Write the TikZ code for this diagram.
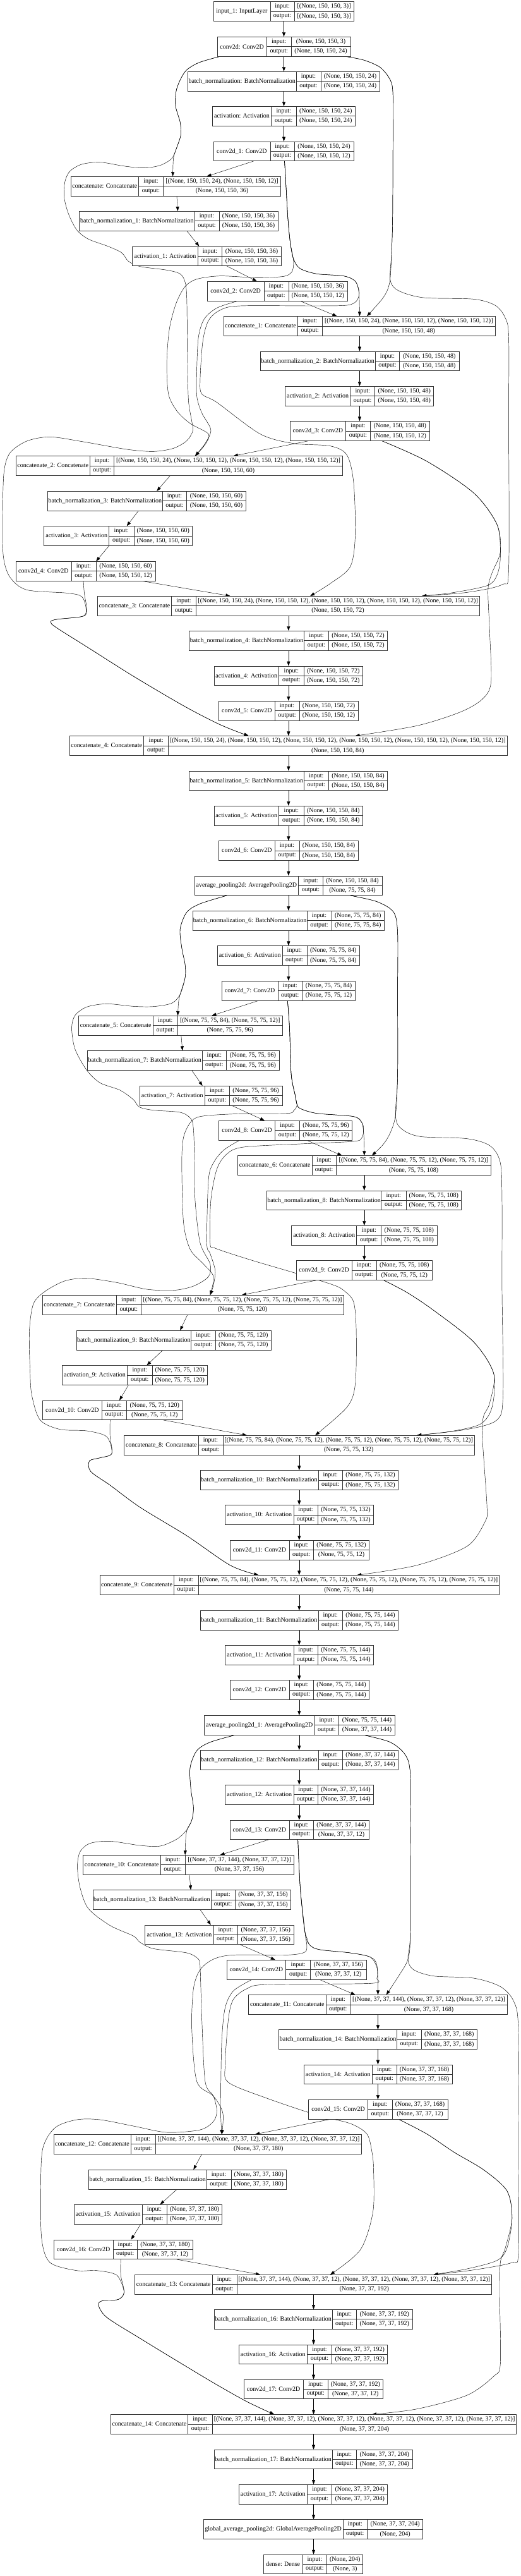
\documentclass[tikz,border=0pt]{standalone}
\usepackage{fontspec}
\setmainfont{Liberation Serif}
\usetikzlibrary{fit,arrows.meta}
\pgfdeclarelayer{bg}
\pgfsetlayers{bg,main}
\tikzset{
 box/.style={draw=black!80, line width=0.6pt, fill=white, inner sep=0pt, rectangle},
 cell/.style={draw=black!80, line width=0.6pt},
 txt/.style={inner sep=0pt, font=\fontsize{10pt}{12pt}\selectfont},
 arr/.style={-{Triangle[length=7pt,width=5pt]}, line width=0.45pt, draw=black},
}
\newcommand\mklayer[9]{%
  \pgfmathsetmacro\Lyb{#6+92}%
  \pgfmathsetmacro\Lym{#6+46}%
  \pgfmathsetmacro\Lyu{#6+23.5}%
  \pgfmathsetmacro\Lyd{#6+69}%
  \pgfmathsetmacro\Lxc{(#2+#3)/2}%
  \pgfmathsetmacro\Lxi{(#3+#4)/2}%
  \pgfmathsetmacro\Lxv{(#4+#5)/2}%
  \node[box, fit={(#2,#6) (#5,\Lyb)}] (#1) {};
  \draw[cell] (#3,#6) -- (#3,\Lyb) (#4,#6) -- (#4,\Lyb) (#3,\Lym) -- (#5,\Lym);
  \node[txt] (#1-l) at (\Lxc,\Lym) {#7};
  \node[txt] (#1-i) at (\Lxi,\Lyu) {input:};
  \node[txt] (#1-o) at (\Lxi,\Lyd) {output:};
  \node[txt] (#1-iv) at (\Lxv,\Lyu) {#8};
  \node[txt] (#1-ov) at (\Lxv,\Lyd) {#9};
}
\newcommand\cedge[4]{\draw[arr] (#1.south-|#2,0) -- (#3.north-|#4,0);}
\begin{document}
\begin{tikzpicture}[x=0.528205pt, y=-0.333333pt]
\useasboundingbox (0,0) rectangle (1560,12228);
% ---------------- layers ----------------
\mklayer{in0}{640}{810}{883}{1060}{8}{input\_1: InputLayer}{[(None, 150, 150, 3)]}{[(None, 150, 150, 3)]}
\mklayer{c0}{651}{800}{873}{1051}{175}{conv2d: Conv2D}{(None, 150, 150, 3)}{(None, 150, 150, 24)}
\mklayer{b0}{563}{888}{962}{1138}{340}{batch\_normalization: BatchNormalization}{(None, 150, 150, 24)}{(None, 150, 150, 24)}
\mklayer{a0}{637}{813}{888}{1065}{505}{activation: Activation}{(None, 150, 150, 24)}{(None, 150, 150, 24)}
\mklayer{c1}{640}{810}{883}{1060}{672}{conv2d\_1: Conv2D}{(None, 150, 150, 24)}{(None, 150, 150, 12)}
\mklayer{k0}{212}{416}{489}{842}{838}{concatenate: Concatenate}{[(None, 150, 150, 24), (None, 150, 150, 12)]}{(None, 150, 150, 36)}
\mklayer{b1}{238}{583}{657}{833}{1003}{batch\_normalization\_1: BatchNormalization}{(None, 150, 150, 36)}{(None, 150, 150, 36)}
\mklayer{a1}{397}{593}{666}{843}{1170}{activation\_1: Activation}{(None, 150, 150, 36)}{(None, 150, 150, 36)}
\mklayer{c2}{622}{791}{865}{1041}{1336}{conv2d\_2: Conv2D}{(None, 150, 150, 36)}{(None, 150, 150, 12)}
\mklayer{k1}{670}{892}{966}{1485}{1502}{concatenate\_1: Concatenate}{[(None, 150, 150, 24), (None, 150, 150, 12), (None, 150, 150, 12)]}{(None, 150, 150, 48)}
\mklayer{b2}{780}{1125}{1198}{1376}{1668}{batch\_normalization\_2: BatchNormalization}{(None, 150, 150, 48)}{(None, 150, 150, 48)}
\mklayer{a2}{855}{1050}{1124}{1300}{1834}{activation\_2: Activation}{(None, 150, 150, 48)}{(None, 150, 150, 48)}
\mklayer{c3}{869}{1037}{1110}{1288}{2000}{conv2d\_3: Conv2D}{(None, 150, 150, 48)}{(None, 150, 150, 12)}
\mklayer{k2}{47}{270}{342}{1027}{2165}{concatenate\_2: Concatenate}{[(None, 150, 150, 24), (None, 150, 150, 12), (None, 150, 150, 12), (None, 150, 150, 12)]}{(None, 150, 150, 60)}
\mklayer{b3}{143}{487}{560}{737}{2332}{batch\_normalization\_3: BatchNormalization}{(None, 150, 150, 60)}{(None, 150, 150, 60)}
\mklayer{a3}{132}{327}{401}{577}{2498}{activation\_3: Activation}{(None, 150, 150, 60)}{(None, 150, 150, 60)}
\mklayer{c4}{47}{214}{288}{466}{2665}{conv2d\_4: Conv2D}{(None, 150, 150, 60)}{(None, 150, 150, 12)}
\mklayer{k3}{292}{514}{588}{1438}{2830}{concatenate\_3: Concatenate}{[(None, 150, 150, 24), (None, 150, 150, 12), (None, 150, 150, 12), (None, 150, 150, 12), (None, 150, 150, 12)]}{(None, 150, 150, 72)}
\mklayer{b4}{567}{912}{985}{1162}{2995}{batch\_normalization\_4: BatchNormalization}{(None, 150, 150, 72)}{(None, 150, 150, 72)}
\mklayer{a4}{642}{836}{911}{1087}{3162}{activation\_4: Activation}{(None, 150, 150, 72)}{(None, 150, 150, 72)}
\mklayer{c5}{656}{824}{897}{1074}{3328}{conv2d\_5: Conv2D}{(None, 150, 150, 72)}{(None, 150, 150, 12)}
\mklayer{k4}{208}{431}{505}{1520}{3494}{concatenate\_4: Concatenate}{[(None, 150, 150, 24), (None, 150, 150, 12), (None, 150, 150, 12), (None, 150, 150, 12), (None, 150, 150, 12), (None, 150, 150, 12)]}{(None, 150, 150, 84)}
\mklayer{b5}{567}{911}{985}{1162}{3660}{batch\_normalization\_5: BatchNormalization}{(None, 150, 150, 84)}{(None, 150, 150, 84)}
\mklayer{a5}{642}{836}{911}{1087}{3826}{activation\_5: Activation}{(None, 150, 150, 84)}{(None, 150, 150, 84)}
\mklayer{c6}{656}{824}{897}{1074}{3992}{conv2d\_6: Conv2D}{(None, 150, 150, 84)}{(None, 150, 150, 84)}
\mklayer{p0}{583}{895}{968}{1145}{4158}{average\_pooling2d: AveragePooling2D}{(None, 150, 150, 84)}{(None, 75, 75, 84)}
\mklayer{b6}{578}{920}{994}{1152}{4324}{batch\_normalization\_6: BatchNormalization}{(None, 75, 75, 84)}{(None, 75, 75, 84)}
\mklayer{a6}{652}{846}{920}{1078}{4490}{activation\_6: Activation}{(None, 75, 75, 84)}{(None, 75, 75, 84)}
\mklayer{c7}{665}{833}{906}{1065}{4657}{conv2d\_7: Conv2D}{(None, 75, 75, 84)}{(None, 75, 75, 12)}
\mklayer{k5}{235}{459}{532}{847}{4822}{concatenate\_5: Concatenate}{[(None, 75, 75, 84), (None, 75, 75, 12)]}{(None, 75, 75, 96)}
\mklayer{b7}{262}{606}{679}{837}{4988}{batch\_normalization\_7: BatchNormalization}{(None, 75, 75, 96)}{(None, 75, 75, 96)}
\mklayer{a7}{419}{614}{688}{846}{5155}{activation\_7: Activation}{(None, 75, 75, 96)}{(None, 75, 75, 96)}
\mklayer{c8}{656}{825}{898}{1056}{5320}{conv2d\_8: Conv2D}{(None, 75, 75, 96)}{(None, 75, 75, 12)}
\mklayer{k6}{713}{935}{1008}{1472}{5486}{concatenate\_6: Concatenate}{[(None, 75, 75, 84), (None, 75, 75, 12), (None, 75, 75, 12)]}{(None, 75, 75, 108)}
\mklayer{b8}{800}{1143}{1217}{1383}{5652}{batch\_normalization\_8: BatchNormalization}{(None, 75, 75, 108)}{(None, 75, 75, 108)}
\mklayer{a8}{874}{1069}{1143}{1310}{5818}{activation\_8: Activation}{(None, 75, 75, 108)}{(None, 75, 75, 108)}
\mklayer{c9}{888}{1055}{1128}{1296}{5984}{conv2d\_9: Conv2D}{(None, 75, 75, 108)}{(None, 75, 75, 12)}
\mklayer{k7}{127}{349}{423}{1031}{6148}{concatenate\_7: Concatenate}{[(None, 75, 75, 84), (None, 75, 75, 12), (None, 75, 75, 12), (None, 75, 75, 12)]}{(None, 75, 75, 120)}
\mklayer{b9}{229}{573}{646}{813}{6316}{batch\_normalization\_9: BatchNormalization}{(None, 75, 75, 120)}{(None, 75, 75, 120)}
\mklayer{a9}{186}{382}{456}{622}{6482}{activation\_9: Activation}{(None, 75, 75, 120)}{(None, 75, 75, 120)}
\mklayer{c10}{128}{305}{380}{547}{6648}{conv2d\_10: Conv2D}{(None, 75, 75, 120)}{(None, 75, 75, 12)}
\mklayer{k8}{372}{595}{668}{1423}{6814}{concatenate\_8: Concatenate}{[(None, 75, 75, 84), (None, 75, 75, 12), (None, 75, 75, 12), (None, 75, 75, 12), (None, 75, 75, 12)]}{(None, 75, 75, 132)}
\mklayer{b10}{600}{954}{1027}{1194}{6980}{batch\_normalization\_10: BatchNormalization}{(None, 75, 75, 132)}{(None, 75, 75, 132)}
\mklayer{a10}{675}{880}{953}{1120}{7145}{activation\_10: Activation}{(None, 75, 75, 132)}{(None, 75, 75, 132)}
\mklayer{c11}{689}{867}{940}{1107}{7312}{conv2d\_11: Conv2D}{(None, 75, 75, 132)}{(None, 75, 75, 12)}
\mklayer{k9}{299}{521}{595}{1497}{7478}{concatenate\_9: Concatenate}{[(None, 75, 75, 84), (None, 75, 75, 12), (None, 75, 75, 12), (None, 75, 75, 12), (None, 75, 75, 12), (None, 75, 75, 12)]}{(None, 75, 75, 144)}
\mklayer{b11}{600}{954}{1027}{1194}{7645}{batch\_normalization\_11: BatchNormalization}{(None, 75, 75, 144)}{(None, 75, 75, 144)}
\mklayer{a11}{675}{880}{953}{1120}{7810}{activation\_11: Activation}{(None, 75, 75, 144)}{(None, 75, 75, 144)}
\mklayer{c12}{689}{867}{940}{1107}{7976}{conv2d\_12: Conv2D}{(None, 75, 75, 144)}{(None, 75, 75, 144)}
\mklayer{p1}{612}{943}{1016}{1184}{8143}{average\_pooling2d\_1: AveragePooling2D}{(None, 75, 75, 144)}{(None, 37, 37, 144)}
\mklayer{b12}{600}{954}{1027}{1194}{8308}{batch\_normalization\_12: BatchNormalization}{(None, 37, 37, 144)}{(None, 37, 37, 144)}
\mklayer{a12}{675}{880}{953}{1120}{8473}{activation\_12: Activation}{(None, 37, 37, 144)}{(None, 37, 37, 144)}
\mklayer{c13}{689}{867}{940}{1107}{8640}{conv2d\_13: Conv2D}{(None, 37, 37, 144)}{(None, 37, 37, 12)}
\mklayer{k10}{249}{481}{555}{880}{8806}{concatenate\_10: Concatenate}{[(None, 37, 37, 144), (None, 37, 37, 12)]}{(None, 37, 37, 156)}
\mklayer{b13}{278}{632}{705}{872}{8972}{batch\_normalization\_13: BatchNormalization}{(None, 37, 37, 156)}{(None, 37, 37, 156)}
\mklayer{a13}{435}{640}{713}{880}{9138}{activation\_13: Activation}{(None, 37, 37, 156)}{(None, 37, 37, 156)}
\mklayer{c14}{680}{857}{931}{1098}{9304}{conv2d\_14: Conv2D}{(None, 37, 37, 156)}{(None, 37, 37, 12)}
\mklayer{k11}{745}{977}{1050}{1521}{9470}{concatenate\_11: Concatenate}{[(None, 37, 37, 144), (None, 37, 37, 12), (None, 37, 37, 12)]}{(None, 37, 37, 168)}
\mklayer{b14}{836}{1190}{1263}{1430}{9635}{batch\_normalization\_14: BatchNormalization}{(None, 37, 37, 168)}{(None, 37, 37, 168)}
\mklayer{a14}{911}{1116}{1189}{1356}{9801}{activation\_14: Activation}{(None, 37, 37, 168)}{(None, 37, 37, 168)}
\mklayer{c15}{925}{1103}{1176}{1342}{9967}{conv2d\_15: Conv2D}{(None, 37, 37, 168)}{(None, 37, 37, 12)}
\mklayer{k12}{161}{392}{466}{1084}{10132}{concatenate\_12: Concatenate}{[(None, 37, 37, 144), (None, 37, 37, 12), (None, 37, 37, 12), (None, 37, 37, 12)]}{(None, 37, 37, 180)}
\mklayer{b15}{266}{619}{693}{859}{10300}{batch\_normalization\_15: BatchNormalization}{(None, 37, 37, 180)}{(None, 37, 37, 180)}
\mklayer{a15}{222}{426}{500}{666}{10465}{activation\_15: Activation}{(None, 37, 37, 180)}{(None, 37, 37, 180)}
\mklayer{c16}{161}{339}{412}{578}{10632}{conv2d\_16: Conv2D}{(None, 37, 37, 180)}{(None, 37, 37, 12)}
\mklayer{k13}{404}{636}{710}{1474}{10798}{concatenate\_13: Concatenate}{[(None, 37, 37, 144), (None, 37, 37, 12), (None, 37, 37, 12), (None, 37, 37, 12), (None, 37, 37, 12)]}{(None, 37, 37, 192)}
\mklayer{b16}{642}{996}{1069}{1236}{10963}{batch\_normalization\_16: BatchNormalization}{(None, 37, 37, 192)}{(None, 37, 37, 192)}
\mklayer{a16}{716}{921}{995}{1162}{11130}{activation\_16: Activation}{(None, 37, 37, 192)}{(None, 37, 37, 192)}
\mklayer{c17}{731}{909}{983}{1148}{11295}{conv2d\_17: Conv2D}{(None, 37, 37, 192)}{(None, 37, 37, 12)}
\mklayer{k14}{332}{563}{637}{1548}{11462}{concatenate\_14: Concatenate}{[(None, 37, 37, 144), (None, 37, 37, 12), (None, 37, 37, 12), (None, 37, 37, 12), (None, 37, 37, 12), (None, 37, 37, 12)]}{(None, 37, 37, 204)}
\mklayer{b17}{642}{996}{1069}{1236}{11628}{batch\_normalization\_17: BatchNormalization}{(None, 37, 37, 204)}{(None, 37, 37, 204)}
\mklayer{a17}{716}{921}{995}{1162}{11794}{activation\_17: Activation}{(None, 37, 37, 204)}{(None, 37, 37, 204)}
\mklayer{g}{610}{1028}{1101}{1268}{11960}{global\_average\_pooling2d: GlobalAveragePooling2D}{(None, 37, 37, 204)}{(None, 204)}
\mklayer{d}{790}{907}{980}{1088}{12126}{dense: Dense}{(None, 204)}{(None, 3)}
% ---------------- edges ----------------
\begin{pgfonlayer}{bg}
% main chain
\cedge{in0}{851}{c0}{851}\cedge{c0}{851}{b0}{851}\cedge{b0}{851}{a0}{851}\cedge{a0}{851}{c1}{851}
\cedge{c1}{760}{k0}{620}\cedge{k0}{530}{b1}{533}\cedge{b1}{560}{a1}{597}\cedge{a1}{680}{c2}{770}
\cedge{c2}{900}{k1}{1010}\cedge{k1}{1078}{b2}{1078}\cedge{b2}{1078}{a2}{1078}\cedge{a2}{1078}{c3}{1078}
\cedge{c3}{925}{k2}{700}\cedge{k2}{510}{b3}{470}\cedge{b3}{415}{a3}{380}\cedge{a3}{327}{c4}{288}
\cedge{c4}{425}{k3}{690}\cedge{k3}{865}{b4}{865}\cedge{b4}{865}{a4}{865}\cedge{a4}{865}{c5}{865}
\cedge{c5}{865}{k4}{865}\cedge{k4}{865}{b5}{865}\cedge{b5}{865}{a5}{865}\cedge{a5}{865}{c6}{865}
\cedge{c6}{865}{p0}{865}\cedge{p0}{865}{b6}{865}\cedge{b6}{865}{a6}{865}\cedge{a6}{865}{c7}{865}
\cedge{c7}{775}{k5}{635}\cedge{k5}{543}{b7}{547}\cedge{b7}{575}{a7}{607}\cedge{a7}{695}{c8}{793}
\cedge{c8}{920}{k6}{1025}\cedge{k6}{1092}{b8}{1092}\cedge{b8}{1092}{a8}{1092}\cedge{a8}{1092}{c9}{1092}
\cedge{c9}{950}{k7}{725}\cedge{k7}{562}{b9}{540}\cedge{b9}{488}{a9}{440}\cedge{a9}{385}{c10}{358}
\cedge{c10}{490}{k8}{740}\cedge{k8}{897}{b10}{897}\cedge{b10}{897}{a10}{897}\cedge{a10}{897}{c11}{897}
\cedge{c11}{897}{k9}{897}\cedge{k9}{897}{b11}{897}\cedge{b11}{897}{a11}{897}\cedge{a11}{897}{c12}{897}
\cedge{c12}{897}{p1}{897}\cedge{p1}{897}{b12}{897}\cedge{b12}{897}{a12}{897}\cedge{a12}{897}{c13}{897}
\cedge{c13}{805}{k10}{660}\cedge{k10}{568}{b13}{572}\cedge{b13}{600}{a13}{632}\cedge{a13}{720}{c14}{825}
\cedge{c14}{958}{k11}{1065}\cedge{k11}{1133}{b14}{1133}\cedge{b14}{1133}{a14}{1133}\cedge{a14}{1133}{c15}{1133}
\cedge{c15}{990}{k12}{765}\cedge{k12}{605}{b15}{580}\cedge{b15}{530}{a15}{480}\cedge{a15}{422}{c16}{393}
\cedge{c16}{530}{k13}{780}\cedge{k13}{940}{b16}{940}\cedge{b16}{940}{a16}{940}\cedge{a16}{940}{c17}{940}
\cedge{c17}{940}{k14}{940}\cedge{k14}{940}{b17}{940}\cedge{b17}{940}{a17}{940}\cedge{a17}{940}{g}{940}
\cedge{g}{940}{d}{940}
% ---- block 1 skip connections ----
\draw[arr] plot[smooth,tension=0.5] coordinates {(c0.south-|660,0) (595,298) (555,340) (530,420) (526,500) (540,580) (542,640) (530,700) (520,750) (k0.north-|518,0)};
\draw[arr] plot[smooth,tension=0.5] coordinates {(c0.south-|660,0) (595,298) (555,340) (530,420) (526,500) (540,580) (542,640) (530,700) (515,752) (480,785) (430,797) (370,788) (300,770) (245,780) (210,812) (195,860) (192,930) (200,990) (212,1040) (232,1095) (265,1135) (325,1170) (365,1200) (385,1240) (420,1265) (500,1282) (540,1300) (555,1340) (560,1420) (562,1700) (565,1900) (575,2000) (578,2045) (560,2092) (520,2128) (460,2143) (380,2133) (250,2097) (150,2074) (80,2094) (30,2150) (12,2240) (8,2440) (10,2640) (30,2740) (80,2800) (200,2815) (245,2832) (258,2890) (248,2925) (170,2940) (152,2952) (168,2978) (265,3075) (400,3210) (550,3350) (660,3440) (k4.north-|745,0)};
\draw[arr] plot[smooth,tension=0.5] coordinates {(c0.south-|1035,0) (1090,285) (1140,320) (1170,380) (1178,450) (1178,700) (1177,1035) (1174,1200) (1168,1340) (1150,1410) (k1.north-|1100,0)};
\draw[arr] plot[smooth,tension=0.5] coordinates {(c0.south-|1035,0) (1090,285) (1140,320) (1170,380) (1178,450) (1178,700) (1177,1035) (1174,1200) (1170,1330) (1195,1380) (1270,1413) (1420,1420) (1485,1450) (1515,1510) (1525,1600) (1525,2000) (1525,2700) (1505,2775) (1400,2812) (k3.north-|1265,0)};
\draw[arr] plot[smooth,tension=0.5] coordinates {(c1.south-|853,0) (858,900) (863,1035) (870,1150) (880,1230) (900,1275) (950,1300) (1030,1310) (1065,1335) (1076,1390) (k1.north-|1078,0)};
\draw[arr] plot[smooth,tension=0.5] coordinates {(c1.south-|853,0) (858,900) (863,1035) (870,1150) (880,1240) (875,1290) (850,1312) (770,1318) (660,1310) (590,1325) (555,1360) (528,1440) (508,1560) (500,1720) (505,1870) (530,1950) (570,2010) (625,2060) (615,2110) (k2.north-|585,0)};
\draw[arr] plot[smooth,tension=0.5] coordinates {(c2.south-|713,0) (650,1462) (612,1515) (595,1600) (590,1750) (590,1880) (605,1960) (632,2040) (615,2105) (k2.north-|585,0)};
\draw[arr] plot[smooth,tension=0.5] coordinates {(c1.south-|853,0) (858,900) (863,1035) (870,1150) (880,1230) (900,1275) (950,1300) (1030,1310) (1065,1335) (1077,1390) (1068,1430) (1040,1449) (950,1452) (720,1452) (660,1472) (625,1522) (608,1620) (600,1800) (605,1870) (650,1910) (780,2060) (880,2105) (990,2117) (1040,2160) (1060,2290) (1065,2540) (1050,2690) (990,2770) (k3.north-|930,0)};
\draw[arr] plot[smooth,tension=0.5] coordinates {(c3.south-|1145,0) (1280,2190) (1420,2340) (1490,2490) (1500,2640) (1490,2730) (1460,2780) (1350,2815) (k3.north-|1265,0)};
\draw[arr] plot[smooth,tension=0.5] coordinates {(c3.south-|1145,0) (1280,2190) (1420,2340) (1490,2490) (1500,2620) (1475,2720) (1463,2800) (1468,3000) (1472,3240) (1445,3320) (1380,3380) (1250,3445) (k4.north-|1065,0)};
\draw[arr] plot[smooth,tension=0.5] coordinates {(c4.south-|250,0) (253,2820) (260,2890) (250,2925) (170,2940) (152,2952) (168,2978) (265,3075) (400,3210) (550,3350) (660,3440) (k4.north-|745,0)};
% ---- block 2 skip connections ----
\draw[arr] plot[smooth,tension=0.5] coordinates {(p0.south-|680,0) (600,4290) (560,4330) (540,4410) (545,4500) (555,4580) (555,4640) (540,4720) (535,4760) (k5.north-|533,0)};
\draw[arr] plot[smooth,tension=0.5] coordinates {(p0.south-|680,0) (600,4290) (560,4330) (540,4410) (545,4500) (555,4580) (555,4640) (540,4720) (515,4762) (460,4778) (400,4777) (320,4765) (260,4780) (225,4820) (215,4880) (225,4980) (260,5080) (300,5140) (360,5175) (400,5220) (418,5255) (460,5270) (540,5280) (572,5310) (580,5360) (583,5500) (585,5700) (600,5900) (630,6000) (625,6060) (580,6105) (520,6125) (440,6120) (350,6088) (260,6068) (195,6080) (135,6130) (100,6190) (88,6320) (90,6500) (95,6620) (120,6740) (180,6785) (260,6792) (320,6820) (335,6900) (300,6920) (268,6935) (272,6985) (330,7050) (420,7155) (560,7290) (690,7430) (k9.north-|775,0)};
\draw[arr] plot[smooth,tension=0.5] coordinates {(p0.south-|1050,0) (1130,4280) (1180,4330) (1192,4430) (1192,4700) (1192,5100) (1186,5290) (1172,5370) (1150,5430) (k6.north-|1115,0)};
\draw[arr] plot[smooth,tension=0.5] coordinates {(p0.south-|1050,0) (1130,4280) (1180,4330) (1192,4430) (1192,4700) (1192,5100) (1186,5300) (1205,5360) (1260,5395) (1400,5405) (1470,5440) (1500,5520) (1505,5700) (1505,6120) (1508,6620) (1490,6740) (1400,6785) (k8.north-|1250,0)};
\draw[arr] plot[smooth,tension=0.5] coordinates {(c7.south-|862,0) (868,4880) (873,5100) (885,5200) (890,5240) (900,5262) (950,5285) (1060,5300) (1085,5330) (1091,5400) (k6.north-|1092,0)};
\draw[arr] plot[smooth,tension=0.5] coordinates {(c7.south-|862,0) (868,4880) (873,5100) (885,5200) (890,5250) (880,5272) (860,5285) (700,5288) (600,5300) (570,5330) (550,5400) (545,5520) (550,5800) (570,5930) (610,6000) (640,6060) (k7.north-|630,0)};
\draw[arr] plot[smooth,tension=0.5] coordinates {(c8.south-|718,0) (670,5460) (640,5520) (625,5600) (620,5900) (630,5950) (645,6030) (640,6100) (k7.north-|630,0)};
\draw[arr] plot[smooth,tension=0.5] coordinates {(c7.south-|862,0) (868,4880) (873,5100) (885,5200) (890,5240) (900,5262) (950,5285) (1060,5300) (1085,5330) (1090,5360) (1085,5400) (1060,5418) (900,5430) (730,5445) (680,5478) (650,5550) (632,5700) (630,5900) (645,5925) (750,5980) (900,6050) (1000,6100) (1030,6125) (1060,6180) (1068,6320) (1065,6570) (1040,6680) (k8.north-|945,0)};
\draw[arr] plot[smooth,tension=0.5] coordinates {(c9.south-|1150,0) (1220,6135) (1300,6220) (1420,6370) (1480,6520) (1475,6680) (1440,6760) (1350,6795) (k8.north-|1250,0)};
\draw[arr] plot[smooth,tension=0.5] coordinates {(c9.south-|1150,0) (1220,6135) (1300,6220) (1420,6370) (1480,6520) (1468,6660) (1450,6720) (1445,6790) (1450,6920) (1460,7155) (1455,7220) (1400,7340) (1250,7430) (k9.north-|1070,0)};
\draw[arr] plot[smooth,tension=0.5] coordinates {(c10.south-|330,0) (330,6820) (335,6900) (300,6920) (268,6935) (272,6985) (330,7050) (420,7155) (560,7290) (690,7430) (k9.north-|775,0)};
% ---- block 3 skip connections ----
\draw[arr] plot[smooth,tension=0.5] coordinates {(p1.south-|705,0) (630,8270) (590,8310) (570,8390) (572,8490) (580,8580) (575,8640) (562,8680) (557,8720) (k10.north-|555,0)};
\draw[arr] plot[smooth,tension=0.5] coordinates {(p1.south-|705,0) (630,8270) (590,8310) (570,8390) (572,8490) (580,8580) (575,8640) (558,8690) (530,8730) (480,8763) (420,8760) (330,8740) (270,8750) (240,8790) (232,8860) (240,8960) (265,9060) (330,9140) (400,9190) (420,9220) (460,9250) (560,9270) (595,9300) (600,9340) (605,9580) (615,9880) (640,9950) (650,10020) (640,10070) (600,10110) (500,10122) (400,10092) (300,10062) (230,10062) (165,10100) (128,10200) (122,10400) (125,10630) (150,10740) (230,10778) (290,10778) (350,10800) (372,10880) (355,10915) (310,10920) (295,10940) (320,11000) (420,11100) (560,11235) (650,11320) (740,11400) (k14.north-|822,0)};
\draw[arr] plot[smooth,tension=0.5] coordinates {(p1.south-|1090,0) (1170,8270) (1215,8330) (1230,8420) (1230,8700) (1230,9180) (1223,9300) (1195,9380) (k11.north-|1158,0)};
\draw[arr] plot[smooth,tension=0.5] coordinates {(p1.south-|1090,0) (1170,8270) (1215,8330) (1230,8420) (1230,8700) (1230,9180) (1223,9300) (1240,9350) (1300,9380) (1420,9390) (1500,9430) (1540,9500) (1554,9630) (1554,10200) (1554,10690) (1535,10740) (1420,10775) (k13.north-|1300,0)};
\draw[arr] plot[smooth,tension=0.5] coordinates {(c13.south-|893,0) (900,8960) (912,9150) (920,9200) (930,9235) (960,9255) (1050,9270) (1110,9290) (1130,9330) (k11.north-|1133,0)};
\draw[arr] plot[smooth,tension=0.5] coordinates {(c13.south-|893,0) (900,8960) (915,9180) (920,9240) (912,9268) (860,9280) (700,9280) (640,9300) (600,9350) (580,9440) (575,9630) (590,9880) (640,9950) (668,10030) (k12.north-|665,0)};
\draw[arr] plot[smooth,tension=0.5] coordinates {(c14.south-|755,0) (700,9450) (675,9530) (665,9680) (662,9900) (662,10050) (k12.north-|665,0)};
\draw[arr] plot[smooth,tension=0.5] coordinates {(c13.south-|893,0) (900,8960) (915,9180) (930,9235) (960,9255) (1050,9270) (1110,9290) (1130,9340) (1130,9390) (1110,9415) (800,9420) (740,9440) (700,9490) (685,9580) (675,9800) (685,9885) (800,9960) (950,10040) (1050,10080) (1100,10130) (1115,10215) (1120,10300) (1118,10500) (1080,10680) (k13.north-|990,0)};
\draw[arr] plot[smooth,tension=0.5] coordinates {(c15.south-|1195,0) (1280,10130) (1360,10215) (1450,10300) (1520,10400) (1535,10530) (1520,10670) (1490,10730) (1400,10770) (k13.north-|1300,0)};
\draw[arr] plot[smooth,tension=0.5] coordinates {(c15.south-|1195,0) (1280,10130) (1360,10215) (1450,10300) (1520,10400) (1535,10530) (1515,10670) (1500,10740) (1498,10900) (1500,11220) (1480,11280) (1400,11370) (1250,11435) (k14.north-|1115,0)};
\draw[arr] plot[smooth,tension=0.5] coordinates {(c16.south-|362,0) (362,10800) (372,10880) (355,10915) (310,10920) (295,10940) (320,11000) (420,11100) (560,11235) (650,11320) (740,11400) (k14.north-|822,0)};
\end{pgfonlayer}
\end{tikzpicture}
\end{document}
